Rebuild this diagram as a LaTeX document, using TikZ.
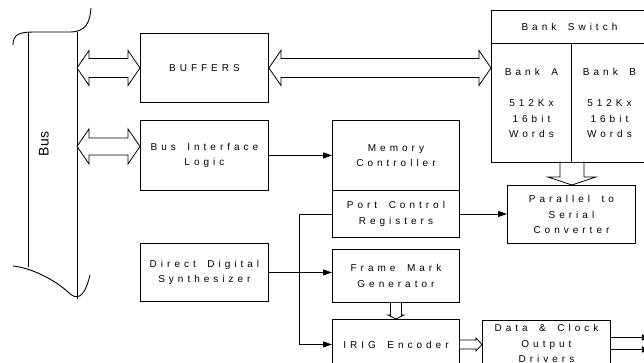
\documentclass[tikz,border=0pt]{standalone}
\usepackage{fontspec}
\setmainfont{Liberation Sans}
\newfontfamily\spacedfont[LetterSpace=40,WordSpace=1.7]{Liberation Sans}
\usetikzlibrary{arrows.meta,calc}

% block text: wide letter spacing, 15.5pt line pitch
\newcommand\blkfont{\spacedfont\fontsize{10}{15.5}\selectfont}

\tikzset{
  blk/.style={draw, line width=0.9pt, rectangle, inner sep=0pt, align=center,
              anchor=north west, font=\blkfont},
  wire/.style={line width=0.8pt},
  sig/.style={wire, -{Triangle[length=9pt,width=6pt]}},
  outl/.style={line width=0.8pt, fill=white, line join=miter},
  busline/.style={line width=0.9pt},
}

% hollow double-headed arrow between two tips at the same height
% #1,#2 tips; #3 half shaft; #4 half head; #5 head length
\newcommand\hdblarrow[5]{%
  \draw[outl] let \p1=#1, \p2=#2 in
    (\x1,\y1) -- (\x1+#5,\y1+#4) -- (\x1+#5,\y1+#3) -- (\x2-#5,\y1+#3)
    -- (\x2-#5,\y1+#4) -- (\x2,\y1) -- (\x2-#5,\y1-#4) -- (\x2-#5,\y1-#3)
    -- (\x1+#5,\y1-#3) -- (\x1+#5,\y1-#4) -- cycle;}

% hollow single-headed arrow pointing right, open at its tail
\newcommand\hsglarrow[5]{%
  \draw[outl] let \p1=#1, \p2=#2 in
    (\x1,\y1+#3) -- (\x2-#5,\y1+#3) -- (\x2-#5,\y1+#4) -- (\x2,\y1)
    -- (\x2-#5,\y1-#4) -- (\x2-#5,\y1-#3) -- (\x1,\y1-#3);}

% hollow single-headed arrow pointing down, open at its tail
\newcommand\vsglarrow[5]{%
  \draw[outl] let \p1=#1, \p2=#2 in
    (\x1-#3,\y1) -- (\x1-#3,\y2+#5) -- (\x1-#4,\y2+#5) -- (\x2,\y2)
    -- (\x1+#4,\y2+#5) -- (\x1+#3,\y2+#5) -- (\x1+#3,\y1);}

\begin{document}
\begin{tikzpicture}[x=1pt, y=-1pt]
\useasboundingbox (0,0) rectangle (644,362);

% ---- system bus ----
\coordinate (busTop) at (77,32);
\coordinate (busBot) at (77,299);
\draw[busline] (28,32) -- (28,267);
\draw[busline] (busTop) -- (busBot);
\draw[busline] (13,45) .. controls (13,34) and (20,32) .. (34,32) -- (70,32)
               .. controls (86,32) and (90,22) .. (91,8);
\draw[busline] (13,266) .. controls (32,268) and (55,280) .. (68,292)
               .. controls (76,300) and (84,300) .. (90,275);
\node[rotate=90, font=\fontsize{14}{16}\selectfont] (buslbl) at (44,144) {Bus};

% ---- blocks ----
\node[blk, minimum width=128pt, minimum height=69pt] (buf) at (140,33) {BUFFERS};
\node[blk, minimum width=128pt, minimum height=70pt] (bil) at (140,120) {Bus Interface\\Logic};
\node[blk, minimum width=127pt, minimum height=70pt] (mc)  at (332,120) {Memory\\Controller};
\node[blk, minimum width=127pt, minimum height=47pt] (pcr) at (332,190) {Port Control\\Registers};
\node[blk, minimum width=156pt, minimum height=33pt] (bsw) at (491,10) {Bank Switch};
\node[blk, minimum width=80pt, minimum height=119pt] (bka) at (491,43)
     {Bank A\\[16pt]512Kx\\16bit\\Words};
\node[blk, minimum width=76pt, minimum height=119pt] (bkb) at (571,43)
     {Bank B\\[16pt]512Kx\\16bit\\Words};
\node[blk, minimum width=128pt, minimum height=58pt] (p2s) at (507,185) {Parallel to\\Serial\\Converter};
\node[blk, minimum width=128pt, minimum height=58pt] (dds) at (140,243) {Direct Digital\\Synthesizer};
\node[blk, minimum width=127pt, minimum height=53pt] (fmg) at (332,249) {Frame Mark\\Generator};
\node[blk, minimum width=127pt, minimum height=50pt] (irig) at (332,319) {IRIG Encoder};
\node[blk, minimum width=128pt, minimum height=46pt] (dco) at (482,320) {Data \& Clock\\Output\\Drivers};

% ---- wide data paths ----
\hdblarrow{(busTop |- buf.west)}{(buf.west)}{9.5pt}{17.5pt}{12pt}
\hdblarrow{($(busTop |- bil.west)+(0,-9)$)}{($(bil.west)+(0,-9)$)}{8.5pt}{17.5pt}{12pt}
\hdblarrow{(buf.east)}{(buf.east -| bka.west)}{9.5pt}{17.5pt}{12pt}
\vsglarrow{(bka.south east)}{(bka.south east |- p2s.north)}{12pt}{24pt}{8pt}
\vsglarrow{(fmg.south)}{(irig.north)}{5.5pt}{8pt}{4pt}
\hsglarrow{(irig.east)}{(irig.east -| dco.west)}{4.5pt}{6.5pt}{6pt}

% ---- control signals ----
\draw[sig] (bil.east) -- (bil.east -| mc.west);
\draw[sig] (pcr.east) -- (pcr.east -| p2s.west);
\draw[sig] (dds.east) -- (dds.east -| fmg.west);
\coordinate (pcrTap) at ($(pcr.west)+(-33,0)$);
\draw[sig] (pcr.west) -- (pcrTap) |- (irig.west);

% ---- driver outputs ----
\coordinate (outA) at ($(dco.east)+(40,-6)$);
\coordinate (outB) at ($(dco.east)+(40,6)$);
\draw[sig] ($(dco.east)+(0,-6)$) -- (outA);
\draw[sig] ($(dco.east)+(0,6)$) -- (outB);
\end{tikzpicture}
\end{document}
